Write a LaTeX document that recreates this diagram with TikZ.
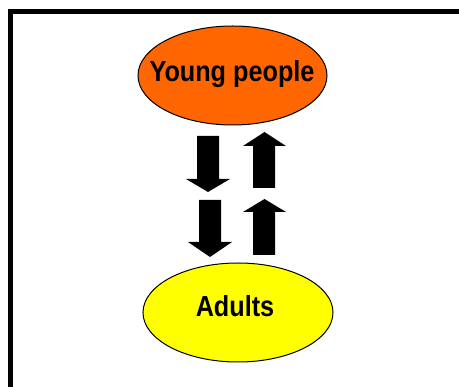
\documentclass[tikz,border=0pt]{standalone}
\usepackage{fontspec}
\newfontfamily\lab[FakeStretch=0.87]{Liberation Sans}
\usetikzlibrary{shapes.geometric}
\begin{document}
\begin{tikzpicture}[x=1pt,y=-1pt,
  oval/.style={ellipse, draw=black, line width=1pt, inner sep=0pt},
  lbl/.style={anchor=base, inner sep=0pt, font=\lab\bfseries\fontsize{29}{32}\selectfont},
  blockarrow/.style={fill=black}]
\useasboundingbox (0,0) rectangle (459,387);
\fill[white] (0,0) rectangle (459,387);
\draw[line width=5pt] (10.5,387) -- (10.5,12) -- (459,12);
\node[oval, fill={rgb,255:red,255;green,102;blue,0}, minimum width=189pt, minimum height=99pt] (yp) at (232.5,75.5) {};
\node[lbl] (yptext) at (232,82) {Young people};
\node[oval, fill={rgb,255:red,255;green,255;blue,0}, minimum width=190pt, minimum height=99pt] (ad) at (238,312.5) {};
\node[lbl] (adtext) at (235,316.5) {Adults};
% down arrow 1
\fill[blockarrow] (197,136) -- (219,136) -- (219,179) -- (230,179) -- (208,192) -- (186,179) -- (197,179) -- cycle;
% up arrow 1
\fill[blockarrow] (253,188) -- (275,188) -- (275,146) -- (286,146) -- (264.5,132) -- (243,146) -- (253,146) -- cycle;
% down arrow 2
\fill[blockarrow] (199,200) -- (221,200) -- (221,242) -- (232,242) -- (210,257) -- (188,242) -- (199,242) -- cycle;
% up arrow 2
\fill[blockarrow] (253,255) -- (275,255) -- (275,212) -- (286,212) -- (264.5,199) -- (243,212) -- (253,212) -- cycle;
\end{tikzpicture}
\end{document}
